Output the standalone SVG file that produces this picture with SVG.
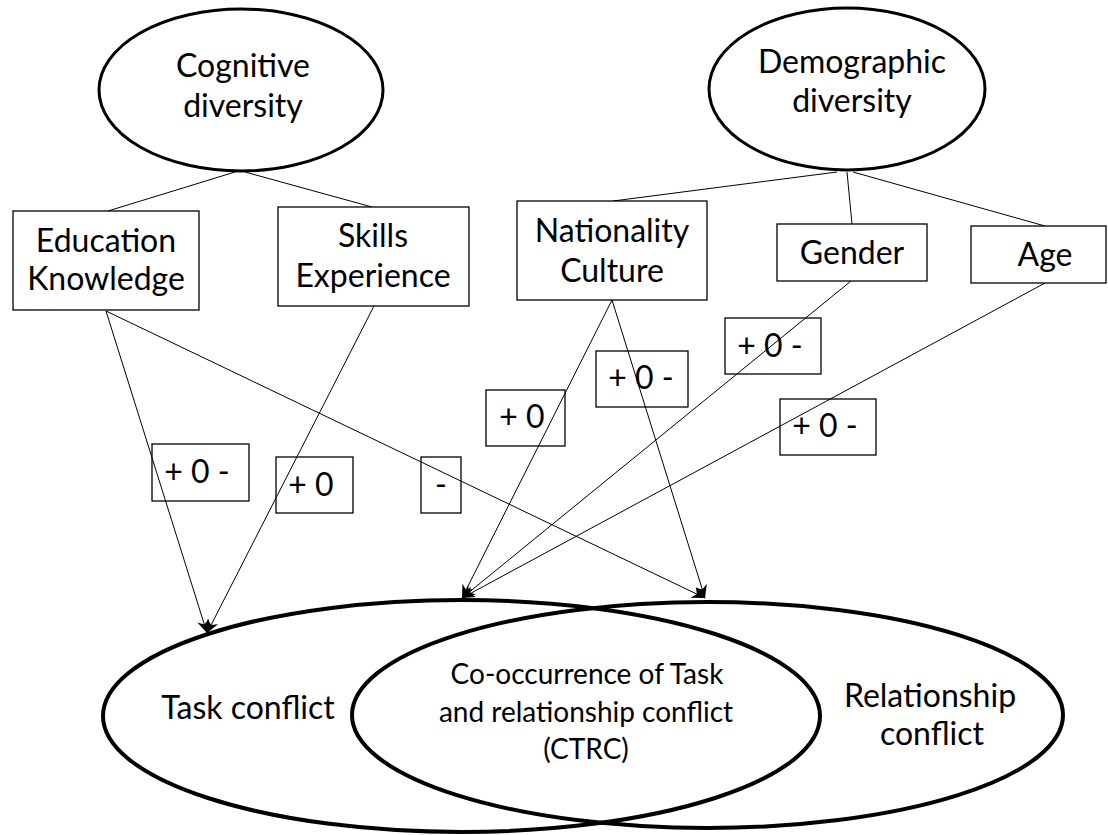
<svg xmlns="http://www.w3.org/2000/svg" width="1108" height="835" viewBox="0 0 1108 835">
<style>
  .t { font-family: Lato, "Liberation Sans", sans-serif; font-size: 32px; fill: #000; text-anchor: middle; }
  .s { font-size: 28px; }
  .node { fill: #fff; stroke: #000; stroke-width: 1.3; }
  .oval { fill: #fff; stroke: #000; stroke-width: 3; }
  .big { fill: none; stroke: #000; stroke-width: 4; }
  .lbl { fill: none; stroke: #000; stroke-width: 1.3; }
  .c { fill: none; stroke: #000; stroke-width: 1; }
</style>
<defs>
  <marker id="ah" markerUnits="userSpaceOnUse" markerWidth="14" markerHeight="12" viewBox="0 0 14 12" refX="13" refY="6" orient="auto">
    <path d="M0,0 L13,6 L0,12 L4,6 z" fill="#000"/>
  </marker>
</defs>
<rect width="1108" height="835" fill="#fff"/>

<g id="connectors">
  <line class="c" x1="235" y1="172" x2="108" y2="211"/>
  <line class="c" x1="245" y1="172" x2="372" y2="207"/>
  <line class="c" x1="837" y1="172" x2="613" y2="201"/>
  <line class="c" x1="847" y1="172" x2="852" y2="224"/>
  <line class="c" x1="853" y1="172" x2="1045" y2="226"/>
  <line class="c" x1="106" y1="311" x2="207" y2="633" marker-end="url(#ah)"/>
  <line class="c" x1="106" y1="311" x2="705" y2="598" marker-end="url(#ah)"/>
  <line class="c" x1="374" y1="306" x2="207" y2="633" marker-end="url(#ah)"/>
  <line class="c" x1="612" y1="300" x2="462" y2="598" marker-end="url(#ah)"/>
  <line class="c" x1="612" y1="300" x2="705" y2="598" marker-end="url(#ah)"/>
  <line class="c" x1="851" y1="281" x2="462" y2="598" marker-end="url(#ah)"/>
  <line class="c" x1="1045" y1="283" x2="462" y2="598" marker-end="url(#ah)"/>
</g>

<g id="cognitive">
  <ellipse class="oval" cx="241" cy="90" rx="142" ry="81"/>
  <text class="t" x="243" y="77">Cognitive</text>
  <text class="t" x="243" y="117">diversity</text>
</g>
<g id="demographic">
  <ellipse class="oval" cx="847" cy="89" rx="138" ry="81"/>
  <text class="t" x="852" y="73">Demographic</text>
  <text class="t" x="852" y="112">diversity</text>
</g>
<g id="education">
  <rect class="node" x="13" y="211" width="186" height="99"/>
  <text class="t" x="106" y="252">Education</text>
  <text class="t" x="106" y="290">Knowledge</text>
</g>
<g id="skills">
  <rect class="node" x="278" y="207" width="191" height="99"/>
  <text class="t" x="373" y="247">Skills</text>
  <text class="t" x="373" y="287">Experience</text>
</g>
<g id="nationality">
  <rect class="node" x="517" y="201" width="190" height="99"/>
  <text class="t" x="612" y="242">Nationality</text>
  <text class="t" x="612" y="282">Culture</text>
</g>
<g id="gender">
  <rect class="node" x="777" y="224" width="150" height="57"/>
  <text class="t" x="852" y="264">Gender</text>
</g>
<g id="age">
  <rect class="node" x="971" y="226" width="135" height="57"/>
  <text class="t" x="1045" y="266">Age</text>
</g>

<g id="label-edu-task">
  <rect class="lbl" x="152" y="444" width="97" height="57"/>
  <text class="t" x="197" y="483">+ 0 -</text>
</g>
<g id="label-skills-task">
  <rect class="lbl" x="276" y="457" width="77" height="56"/>
  <text class="t" x="311" y="496">+ 0</text>
</g>
<g id="label-edu-rel">
  <rect class="lbl" x="421" y="457" width="40" height="56"/>
  <text class="t" x="441" y="496">-</text>
</g>
<g id="label-nat-ctrc">
  <rect class="lbl" x="486" y="390" width="79" height="56"/>
  <text class="t" x="522" y="428">+ 0</text>
</g>
<g id="label-nat-rel">
  <rect class="lbl" x="596" y="351" width="92" height="56"/>
  <text class="t" x="641" y="389">+ 0 -</text>
</g>
<g id="label-gender">
  <rect class="lbl" x="725" y="318" width="96" height="56"/>
  <text class="t" x="770" y="357">+ 0 -</text>
</g>
<g id="label-age">
  <rect class="lbl" x="780" y="399" width="96" height="56"/>
  <text class="t" x="825" y="437">+ 0 -</text>
</g>

<g id="task-conflict">
  <ellipse class="big" cx="461.5" cy="716" rx="358.5" ry="116"/>
  <text class="t" x="248" y="719">Task conflict</text>
</g>
<g id="relationship-conflict">
  <ellipse class="big" cx="707.5" cy="715" rx="355.5" ry="113"/>
  <text class="t" x="930" y="707">Relationship</text>
  <text class="t" x="932" y="745">conflict</text>
</g>
<g id="ctrc">
  <text class="t s" x="587" y="684">Co-occurrence of Task</text>
  <text class="t s" x="586" y="722">and relationship conflict</text>
  <text class="t s" x="586" y="759">(CTRC)</text>
</g>
</svg>
